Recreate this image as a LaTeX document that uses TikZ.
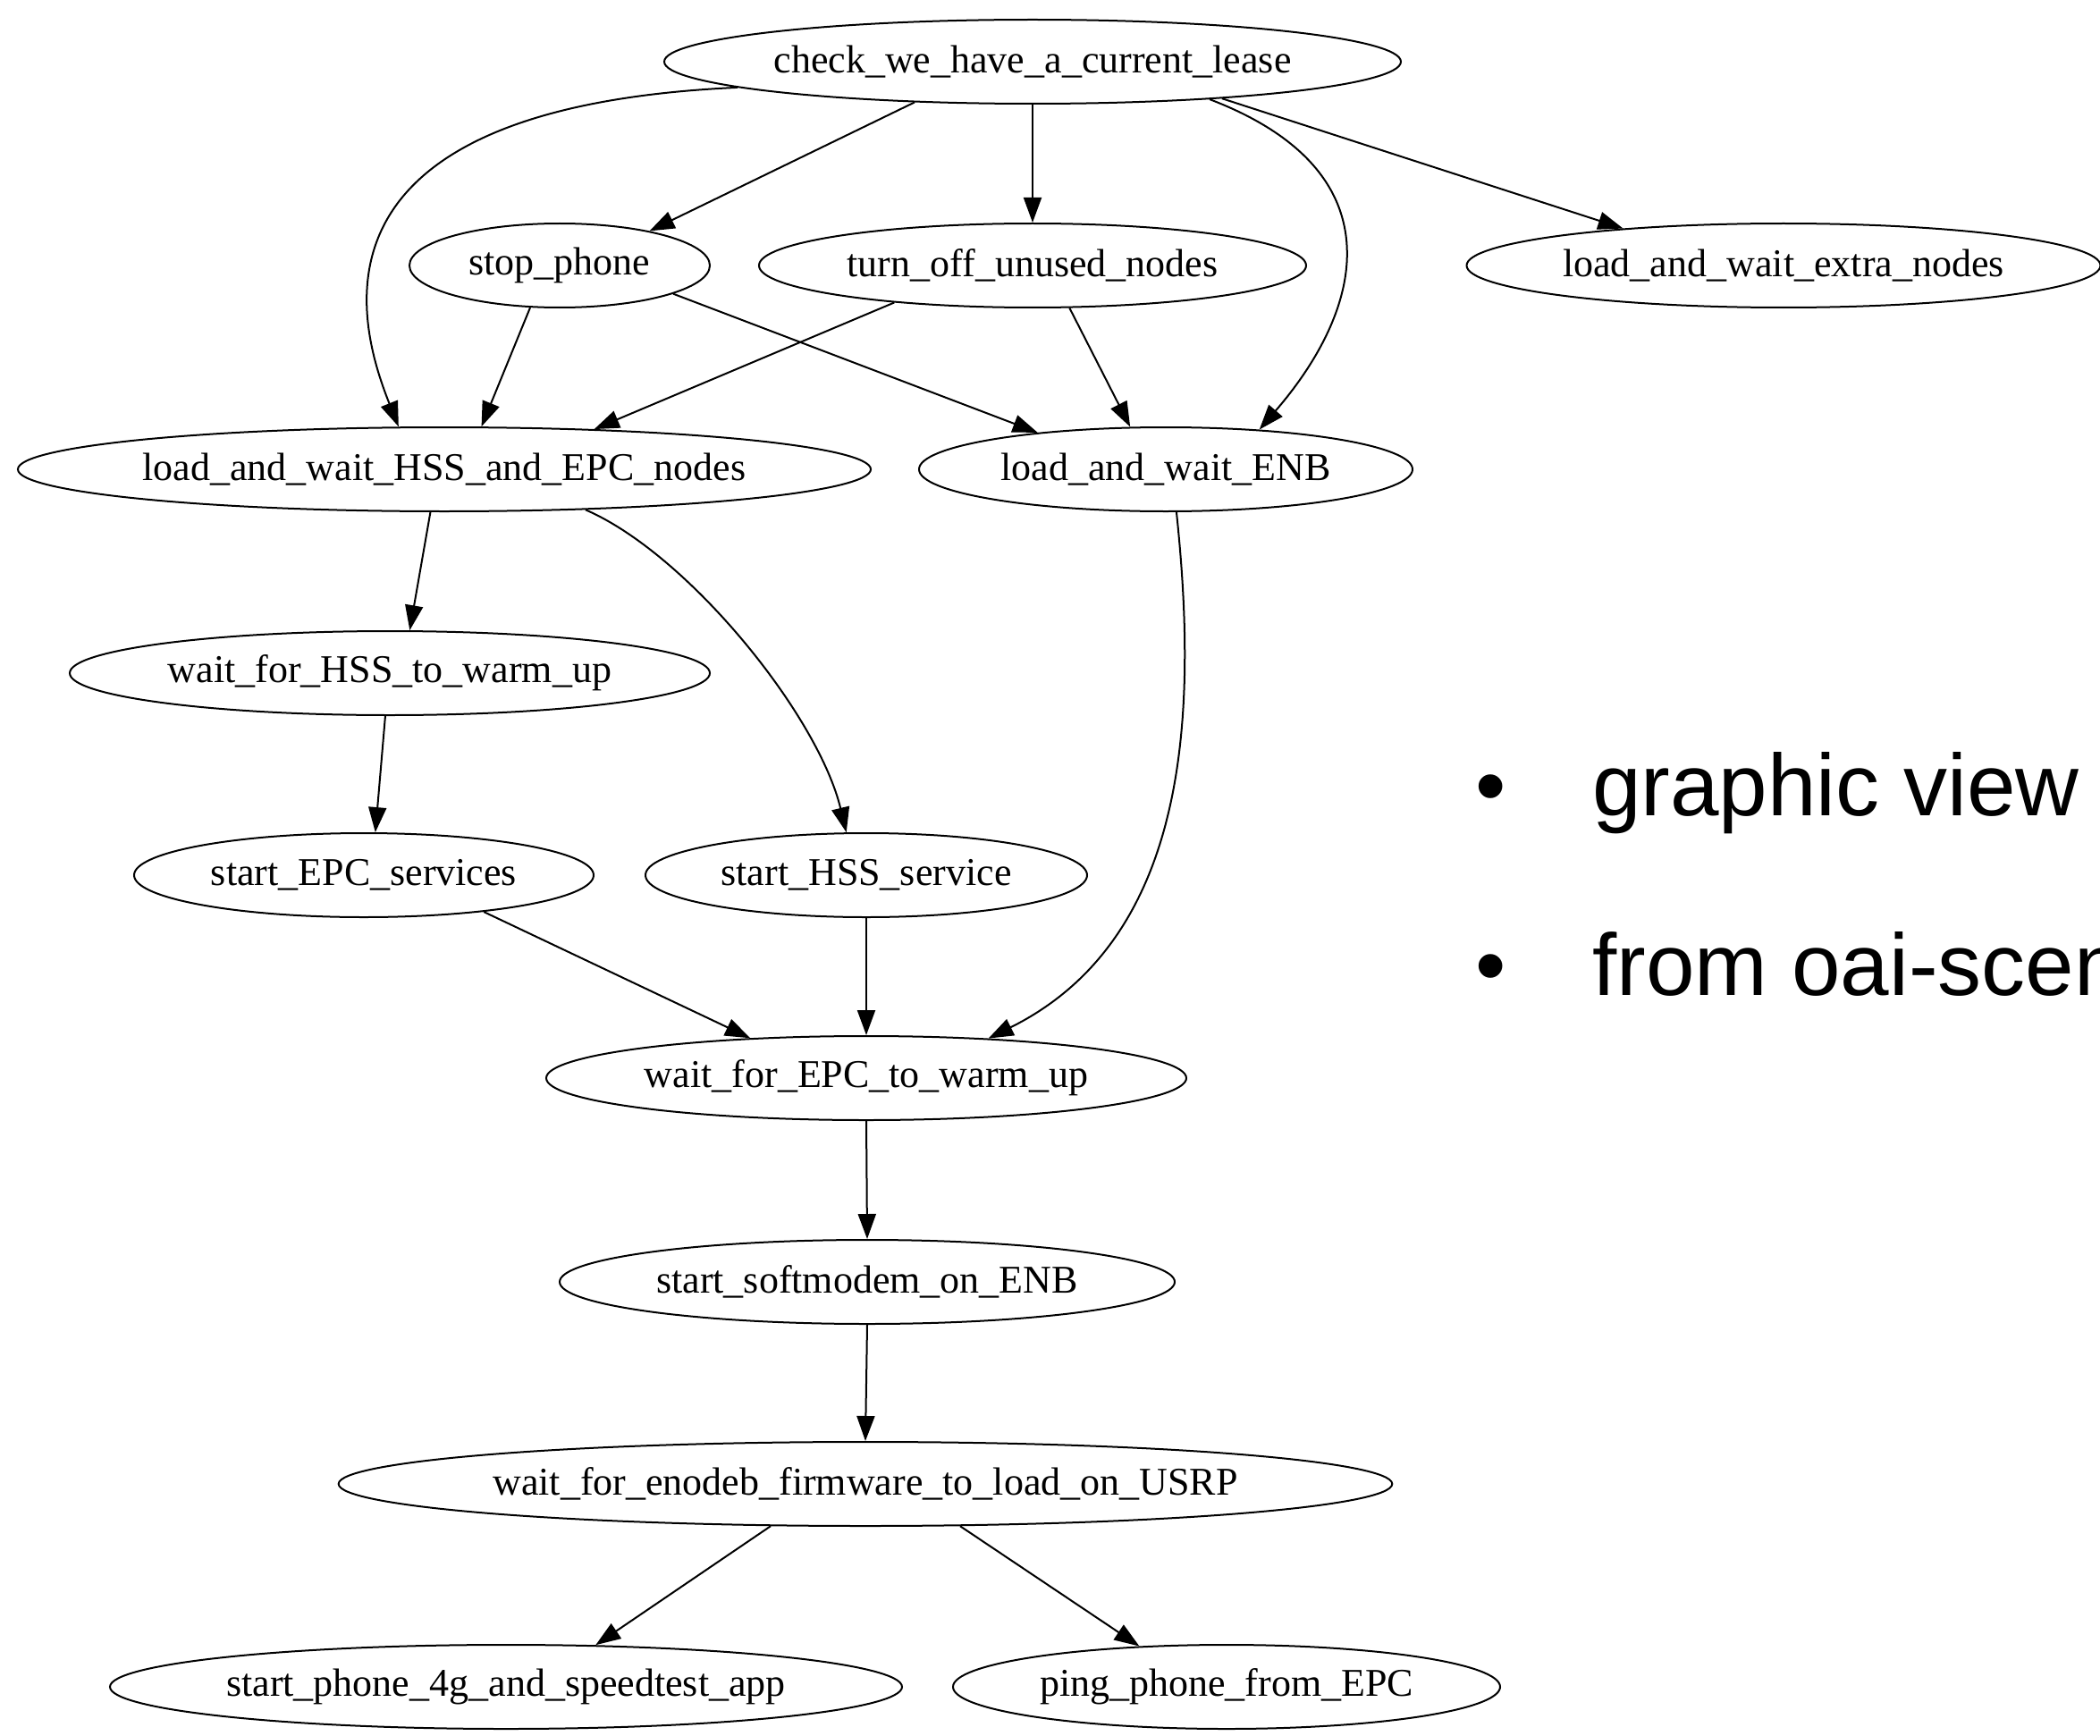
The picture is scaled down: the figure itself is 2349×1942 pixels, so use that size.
\documentclass[tikz,border=0pt]{standalone}
\usepackage{fontspec}
\setmainfont{Liberation Serif}
\newfontfamily\slidefont{Liberation Sans}
\usetikzlibrary{shapes.geometric,arrows.meta}
\begin{document}
\begin{tikzpicture}[x=1pt,y=-1pt,
  gv/.style={ellipse, draw, line width=2pt, inner sep=0pt, minimum height=94pt,
    font=\fontsize{44}{52}\selectfont},
  edge/.style={line width=2pt, -{Triangle[length=28pt,width=20pt]}},
  slide/.style={inner sep=0pt, anchor=base west, font=\slidefont\fontsize{98}{118}\selectfont},
  bullet/.style={inner sep=0pt, anchor=base, font=\slidefont\fontsize{98}{118}\selectfont}
  ]
\fill[white] (0,0) rectangle (2349,1942);
\useasboundingbox (0,0) rectangle (2349,1942);

\node[gv, minimum width=824pt]  (A) at (1155,69)   {check\_we\_have\_a\_current\_lease};
\node[gv, minimum width=336pt]  (B) at (626,297)   {stop\_phone};
\node[gv, minimum width=612pt]  (C) at (1155,297)  {turn\_off\_unused\_nodes};
\node[gv, minimum width=709pt]  (D) at (1995,297)  {load\_and\_wait\_extra\_nodes};
\node[gv, minimum width=954pt]  (E) at (497,525)   {load\_and\_wait\_HSS\_and\_EPC\_nodes};
\node[gv, minimum width=552pt]  (F) at (1304,525)  {load\_and\_wait\_ENB};
\node[gv, minimum width=716pt]  (G) at (436,753)   {wait\_for\_HSS\_to\_warm\_up};
\node[gv, minimum width=514pt]  (H) at (407,979)   {start\_EPC\_services};
\node[gv, minimum width=494pt]  (I) at (969,979)   {start\_HSS\_service};
\node[gv, minimum width=716pt]  (J) at (969,1206)  {wait\_for\_EPC\_to\_warm\_up};
\node[gv, minimum width=688pt]  (K) at (970,1434)  {start\_softmodem\_on\_ENB};
\node[gv, minimum width=1158pt] (L) at (968,1660)  {wait\_for\_enodeb\_firmware\_to\_load\_on\_USRP};
\node[gv, minimum width=886pt]  (M) at (566,1887)  {start\_phone\_4g\_and\_speedtest\_app};
\node[gv, minimum width=612pt]  (N) at (1372,1887) {ping\_phone\_from\_EPC};

\draw[edge] (A.199) -- (B.21);
\draw[edge] (A.south) -- (C.north);
\draw[edge] (A.349) -- (D.167);
\draw[edge] (A.185) .. controls (340,120) and (395,350) .. (E.137);
\draw[edge] (A.348) .. controls (1560,190) and (1530,340) .. (F.23);
\draw[edge] (B.235) -- (E.49);
\draw[edge] (B.346) -- (F.164);
\draw[edge] (C.195) -- (E.15);
\draw[edge] (C.311) -- (F.130);
\draw[edge] (E.252) -- (G.65);
\draw[edge] (E.344) .. controls (770,620) and (915,800) .. (I.115);
\draw[edge] (F.284) .. controls (1340,800) and (1330,1050) .. (J.18);
\draw[edge] (G.264) -- (H.75);
\draw[edge] (H.343) -- (J.161);
\draw[edge] (I.south) -- (J.north);
\draw[edge] (J.south) -- (K.north);
\draw[edge] (K.south) -- (L.north);
\draw[edge] (L.204) -- (M.25);
\draw[edge] (L.336) -- (N.155);

\node[bullet] (b1) at (1668,912) {•};
\node[slide] (t1) at (1781,912) {graphic view};
\node[bullet] (b2) at (1668,1113) {•};
\node[slide] (t2) at (1781,1113) {from oai-scen};
\end{tikzpicture}
\end{document}
